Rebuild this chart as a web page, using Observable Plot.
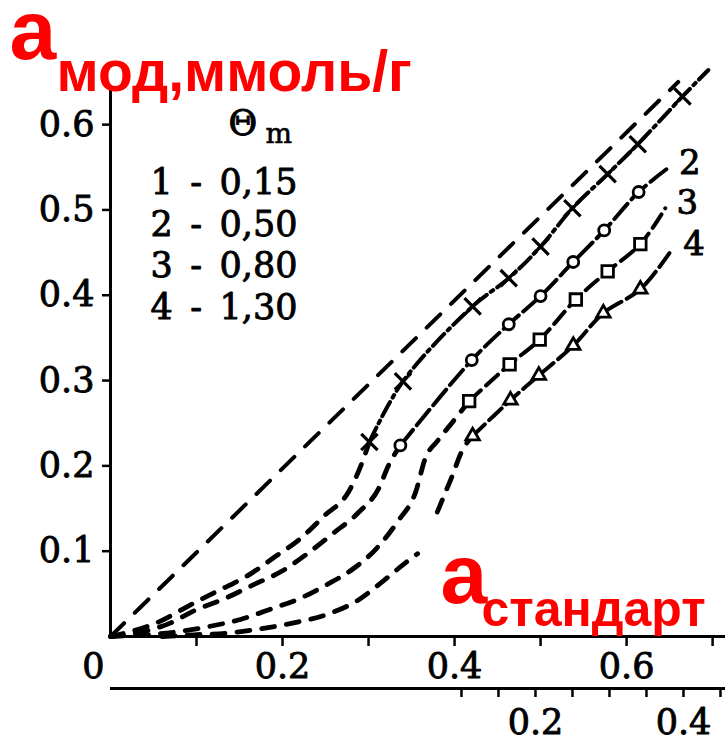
<!DOCTYPE html>
<html><head><meta charset="utf-8">
<script src="https://cdn.jsdelivr.net/npm/d3@7"></script>
<script src="https://cdn.jsdelivr.net/npm/@observablehq/plot@0.6"></script>
<style>body{margin:0;background:#fff} svg{display:block}</style>
</head><body><div id="chart"></div>
<script>
// ---- data (a_стандарт, a_мод in ммоль/г) ----
const refX = [0, 0.66];
const refY = [0, 0.65];

// curve 1 (Θm = 0,15)
const c1LowX = [0, 0.058, 0.091, 0.124, 0.159, 0.192, 0.221, 0.248, 0.277, 0.291, 0.301];
const c1LowY = [0, 0.018, 0.036, 0.053, 0.071, 0.094, 0.115, 0.141, 0.170, 0.200, 0.228];
const c1X = [0.301, 0.340, 0.421, 0.463, 0.500, 0.537, 0.578, 0.613, 0.665];
const c1Y = [0.228, 0.299, 0.387, 0.420, 0.457, 0.502, 0.542, 0.577, 0.633];
const c1End = [0.695, 0.664];

// curve 2 (Θm = 0,50)
const c2LowX = [0, 0.070, 0.097, 0.134, 0.167, 0.200, 0.230, 0.259, 0.288, 0.312, 0.323, 0.337];
const c2LowY = [0, 0.016, 0.030, 0.045, 0.061, 0.077, 0.098, 0.121, 0.145, 0.174, 0.200, 0.224];
const c2X = [0.337, 0.420, 0.463, 0.500, 0.538, 0.574, 0.614];
const c2Y = [0.224, 0.324, 0.366, 0.399, 0.439, 0.476, 0.521];
const c2End = [0.648, 0.549];

// curve 3 (Θm = 0,80)
const c3LowX = [0, 0.081, 0.116, 0.151, 0.186, 0.221, 0.252, 0.283, 0.310, 0.334, 0.355, 0.366, 0.380, 0.399, 0.417];
const c3LowY = [0, 0.006, 0.012, 0.020, 0.032, 0.045, 0.061, 0.080, 0.104, 0.135, 0.170, 0.209, 0.229, 0.253, 0.276];
const c3X = [0.417, 0.464, 0.499, 0.541, 0.578, 0.616];
const c3Y = [0.276, 0.319, 0.348, 0.395, 0.428, 0.460];
const c3End = [0.645, 0.502];

// curve 4 (Θm = 1,30): lower piece, then rising piece after a break
const c4LowX = [0.06, 0.097, 0.136, 0.174, 0.213, 0.252, 0.287, 0.317, 0.345, 0.357];
const c4LowY = [0, 0.002, 0.004, 0.009, 0.016, 0.026, 0.042, 0.065, 0.088, 0.097];
const c4MidX = [0.380, 0.389, 0.398, 0.407, 0.421];
const c4MidY = [0.146, 0.168, 0.190, 0.214, 0.235];
const c4X = [0.421, 0.465, 0.498, 0.538, 0.573, 0.616];
const c4Y = [0.235, 0.277, 0.306, 0.341, 0.379, 0.407];
const c4End = [0.653, 0.454];

// ticks & labels
const yTicks = [0.1, 0.2, 0.3, 0.4, 0.5, 0.6];
const xTicks = [0.1, 0.2, 0.3, 0.4, 0.5, 0.6, 0.7];
const xLabeled = [0.2, 0.4, 0.6];
const secTicks = [0.1, 0.15, 0.2, 0.25, 0.3, 0.35, 0.4, 0.45];
const secLabeled = [0.2, 0.4];
const legendIds = ["1", "2", "3", "4"];
const legendTheta = ["0,15", "0,50", "0,80", "1,30"];
const curveLabels = ["2", "3", "4"];
const upperDash = ["16,5,3,5", "20,6", "16,7", "17,6"];
const yTitleA = "a", yTitleSub = "мод,ммоль/г";
const xTitleA = "a", xTitleSub = "стандарт";

// ---- build tables ----
const zip = (xs, ys, c) => xs.map((x, i) => ({x, y: ys[i], c}));
const ref = zip(refX, refY, "ref");
const low = [
  ...zip(c1LowX, c1LowY, 1), ...zip(c2LowX, c2LowY, 2),
  ...zip(c3LowX, c3LowY, 3), ...zip(c4LowX, c4LowY, 4), ...zip(c4MidX, c4MidY, 5)
];
const m1 = zip(c1X, c1Y, 1), m2 = zip(c2X, c2Y, 2), m3 = zip(c3X, c3Y, 3), m4 = zip(c4X, c4Y, 4);
const ends = [c1End, c2End, c3End, c4End];
const ups = [m1, m2, m3, m4].map((m, i) => [...m, {x: ends[i][0], y: ends[i][1], c: i + 1}]);
const labelRows = curveLabels.map((t, i) => ({t, x: ends[i + 1][0], y: ends[i + 1][1]}));
const legendText = legendIds.map((id, i) => `${id}\u2002-\u2002${legendTheta[i]}`).join("\n");

const serif = "DejaVu Serif";
const sans = "Liberation Sans, Arial, sans-serif";
const ink = "#000";
const red = "#ff0000";
const axisText = {fontSize: 35, fontFamily: serif, textStroke: ink, textStrokeWidth: 0.9, label: null};
const bodyText = {fontFamily: serif, fill: ink, stroke: ink, strokeWidth: 0.9};

const main = Plot.plot({
  width: 725, height: 686,
  marginLeft: 110, marginRight: 0, marginTop: 90, marginBottom: 50,
  x: {domain: [0, 0.715]},
  y: {domain: [0, 0.64]},
  style: {background: "white", color: ink},
  marks: [
    Plot.axisY(yTicks, {tickSize: 8, tickPadding: 8, strokeWidth: 2.5, ...axisText,
      tickFormat: d => d.toFixed(1)}),
    Plot.axisX(xTicks, {tickSize: 10, tickPadding: 7, strokeWidth: 2.5, ...axisText,
      tickFormat: d => xLabeled.some(v => Math.abs(v - d) < 1e-9) ? d.toFixed(1) : ""}),
    Plot.text([0], {x: d => d, frameAnchor: "bottom", dy: 17, dx: -17, lineAnchor: "top",
      text: d => String(d), fontSize: 35, ...bodyText}),
    Plot.ruleX([0], {strokeWidth: 3, stroke: ink}),
    Plot.ruleY([0], {strokeWidth: 3, stroke: ink}),
    Plot.line(ref, {x: "x", y: "y", stroke: ink, strokeWidth: 4, strokeDasharray: "19,15"}),
    Plot.line(low, {x: "x", y: "y", z: "c", curve: "monotone-x", stroke: ink, strokeWidth: 4.8, strokeDasharray: "13,12"}),
    ...ups.map((u, i) => Plot.line(u, {x: "x", y: "y", curve: "catmull-rom", stroke: ink, strokeWidth: 4,
      strokeDasharray: upperDash[i]})),
    Plot.dot(m1, {x: "x", y: "y", symbol: "times", r: 7.5, stroke: ink, strokeWidth: 3.2}),
    Plot.dot(m2, {x: "x", y: "y", symbol: "circle", r: 5.5, fill: "white", stroke: ink, strokeWidth: 2.8}),
    Plot.dot(m3, {x: "x", y: "y", symbol: "square", r: 6.5, fill: "white", stroke: ink, strokeWidth: 2.8}),
    Plot.dot(m4, {x: "x", y: "y", symbol: "triangle", r: 5, fill: "white", stroke: ink, strokeWidth: 2.8}),
    Plot.text(labelRows, {x: "x", y: "y", text: "t", dx: 22, dy: -5, fontSize: 34, ...bodyText}),
    // legend
    Plot.text(["Θ"], {text: d => d, frameAnchor: "top-left", dx: 118, dy: 20, lineAnchor: "top", textAnchor: "start",
      fontSize: 35, ...bodyText}),
    Plot.text(["m"], {text: d => d, frameAnchor: "top-left", dx: 155, dy: 52, lineAnchor: "bottom", textAnchor: "start",
      fontSize: 28, ...bodyText, strokeWidth: 0.6}),
    Plot.text([legendText], {text: d => d, frameAnchor: "top-left", dx: 40, dy: 74, lineAnchor: "top", textAnchor: "start",
      lineHeight: 1.19, fontSize: 35, ...bodyText}),
    // red axis titles
    Plot.text([yTitleA], {text: d => d, frameAnchor: "top-left", dx: -101, dy: -32, lineAnchor: "bottom", textAnchor: "start",
      fontSize: 84, fontWeight: "bold", fontFamily: sans, fill: red}),
    Plot.text([yTitleSub], {text: d => d, frameAnchor: "top-left", dx: -54, dy: 0, lineAnchor: "bottom", textAnchor: "start",
      fontSize: 57, fontWeight: "bold", fontFamily: sans, fill: red}),
    Plot.text([xTitleA], {text: d => d, frameAnchor: "top-left", dx: 330, dy: 512, lineAnchor: "bottom", textAnchor: "start",
      fontSize: 84, fontWeight: "bold", fontFamily: sans, fill: red}),
    Plot.text([xTitleSub], {text: d => d, frameAnchor: "top-left", dx: 371, dy: 535, lineAnchor: "bottom", textAnchor: "start",
      fontSize: 50, fontWeight: "bold", fontFamily: sans, fill: red})
  ]
});

const second = Plot.plot({
  width: 725, height: 52,
  marginLeft: 110, marginRight: 0, marginTop: 2, marginBottom: 50,
  x: {domain: [-0.3743, 0.4568]},
  y: {domain: [0, 1], axis: null},
  style: {background: "white", color: ink},
  marks: [
    Plot.ruleY([0], {strokeWidth: 3, stroke: ink}),
    Plot.axisX(secTicks, {anchor: "bottom", tickSize: 9, tickPadding: 12, strokeWidth: 2.5, ...axisText,
      tickFormat: d => secLabeled.some(v => Math.abs(v - d) < 1e-9) ? d.toFixed(1) : ""})
  ]
});

const root = document.getElementById("chart");
root.append(main, second);
</script>
</body></html>
